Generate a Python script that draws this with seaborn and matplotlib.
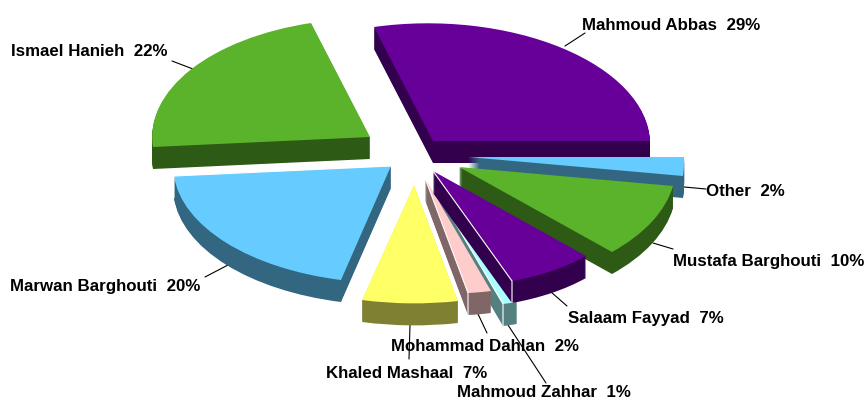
import numpy as np
import matplotlib
matplotlib.use('Agg')
import matplotlib.pyplot as plt
from matplotlib.transforms import Affine2D
import seaborn as sns

names = ['Mahmoud Abbas', 'Other', 'Mustafa Barghouti', 'Salaam Fayyad', 'Mahmoud Zahhar',
         'Mohammad Dahlan', 'Khaled Mashaal', 'Marwan Barghouti', 'Ismael Hanieh']
shares = [29, 2, 10, 7, 1, 2, 7, 20, 22]
hex_colors = ['#660099', '#66CCFF', '#5AB32A', '#660099', '#AAFFFF',
              '#FFCCCC', '#FFFF66', '#66CCFF', '#5AB32A']

# layout, in picture pixels: slice tip, first corner and last corner going clockwise
corners = [((433, 141), (374, 27), (650, 141)),
           ((468, 157), (684, 157), (683, 176)),
           ((459, 167), (673, 186), (612, 252)),
           ((433, 171), (586, 256), (512, 281)),
           ((437, 192), (517, 302), (503, 304)),
           ((425, 178), (491, 291), (468, 293)),
           ((414, 185), (458, 301), (362, 300)),
           ((391, 166), (341, 280), (174, 176)),
           ((370, 137), (153, 147), (311, 23))]
draw_order = [0, 8, 1, 2, 7, 6, 4, 5, 3]
highlighted = [3, 4, 5, 7]
depth = 22

# label left edge, label centre y, leader start, leader end
label_pos = [(582, 24, (565, 46), (585, 33)),
             (706, 190, (684, 187), (706, 189)),
             (673, 260, (653, 243), (673, 249)),
             (568, 317, (551, 292), (567, 306)),
             (457, 391.3, (508, 325), (546, 383)),
             (391, 345, (478, 314), (487, 333)),
             (326, 372, (410, 325), (409, 359)),
             (10, 285, (228, 265), (205, 277)),
             (11, 50, (193, 69), (172, 61))]

sns.set_theme(style='white')
plt.rcParams['font.family'] = ['Liberation Sans', 'DejaVu Sans']

palette = np.array(sns.color_palette(hex_colors))
side_palette = palette * 0.5


def slice_transform(wedge, corner, shift=0):
    # clockwise pie: theta2 is where the slice starts, theta1 where it ends
    a0, a1 = np.radians(wedge.theta2), np.radians(wedge.theta1)
    unit = np.array([[np.cos(a0), np.cos(a1)], [np.sin(a0), np.sin(a1)]])
    tip, p0, p1 = [np.array(p, dtype=float) for p in corner]
    target = np.column_stack([p0 - tip, p1 - tip])
    m = target @ np.linalg.inv(unit)
    mat = np.array([[m[0, 0], m[0, 1], tip[0]],
                    [m[1, 0], m[1, 1], tip[1] + shift],
                    [0, 0, 1]])
    return Affine2D(mat)


fig, ax = plt.subplots(figsize=(8.67, 4.01), dpi=100)
fig.subplots_adjust(left=0, right=1, bottom=0, top=1)

# side walls: the same pie stacked downwards, then the top face
for shift in list(range(depth, 0, -1)) + [0]:
    colors = palette if shift == 0 else side_palette
    wedges, _ = ax.pie(shares, colors=colors, startangle=90, counterclock=False)
    for i, w in enumerate(wedges):
        w.set_linewidth(0)
        w.set_transform(slice_transform(w, corners[i], shift) + ax.transData)
        w.set_zorder(2 + draw_order.index(i) + (0.5 if shift == 0 else 0))

ax.set_aspect('auto')
ax.set_xlim(0, 867)
ax.set_ylim(401, 0)
ax.axis('off')

# thin white edge where the top face meets the side wall
for i in highlighted:
    tip, p0, p1 = corners[i]
    z = 2 + draw_order.index(i) + 0.6
    ax.plot([tip[0], p1[0], p1[0]], [tip[1], p1[1], p1[1] + depth],
            color='white', lw=0.8, zorder=z, solid_capstyle='butt')

for name, share, (tx, ty, a, b) in zip(names, shares, label_pos):
    ax.plot([a[0], b[0]], [a[1], b[1]], color='black', lw=0.8, zorder=1)
    ax.text(tx, ty + 1.5, f'{name}  {share}%', ha='left', va='center', fontsize=12.2,
            fontweight='bold', color='black', zorder=20)

plt.savefig('out.png', dpi=100)
